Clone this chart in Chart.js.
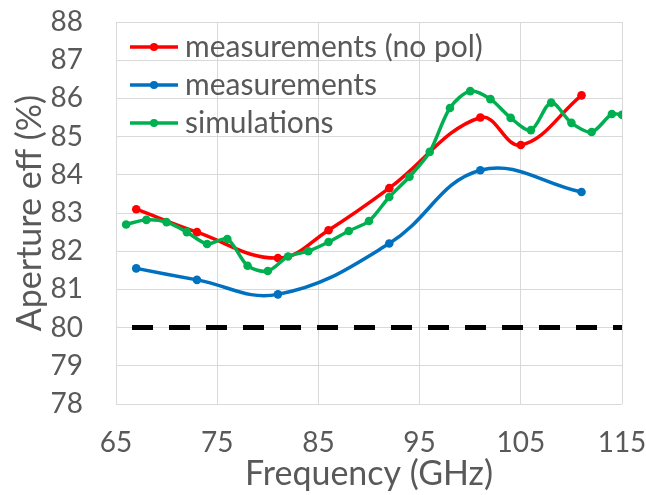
<!DOCTYPE html>
<html>
<head>
<meta charset="utf-8">
<script src="https://cdn.jsdelivr.net/npm/chart.js@4.4.1/dist/chart.umd.min.js"></script>
<style>
  body { margin: 0; background: #fff; }
</style>
</head>
<body>
<canvas id="myChart" width="646" height="495"></canvas>
<script>
const ctx = document.getElementById('myChart')

// x / y values
const freqNoPol = [67, 73, 81, 86, 92, 101, 105, 111]
const effNoPol = [83.1, 82.5, 81.82, 82.55, 83.65, 85.5, 84.78, 86.08]

const freqMeas = [67, 73, 81, 92, 101, 111]
const effMeas = [81.55, 81.25, 80.87, 82.2, 84.12, 83.55]

const freqSim = [66, 68, 70, 72, 74, 76, 78, 80, 82, 84, 86, 88, 90, 92, 94, 96, 98, 100, 102, 104, 106, 108, 110, 112, 114, 115]
const effSim = [82.7, 82.82, 82.76, 82.5, 82.19, 82.32, 81.62, 81.48, 81.86, 82.0, 82.24, 82.53, 82.79, 83.42, 83.95, 84.6, 85.75, 86.19, 85.98, 85.49, 85.17, 85.89, 85.36, 85.12, 85.59, 85.57]

const freqLimit = [65, 115]
const effLimit = [80, 80]

const seriesNames = ['measurements (no pol)', 'measurements', 'simulations']
const seriesColors = ['#ff0000', '#0070c0', '#00b050']

const xTicks = [65, 75, 85, 95, 105, 115]
const yTicks = [78, 79, 80, 81, 82, 83, 84, 85, 86, 87, 88]

const textColor = '#595959'
const gridColor = '#d9d9d9'

function toPoints(xs, ys) {
  return xs.map((x, i) => ({ x: x, y: ys[i] }))
}

// little "line with a dot" icon for the legend
function legendIcon(color) {
  const c = document.createElement('canvas')
  c.width = 48
  c.height = 14
  const g = c.getContext('2d')
  g.strokeStyle = color
  g.lineWidth = 3.5
  g.beginPath()
  g.moveTo(0, 7)
  g.lineTo(48, 7)
  g.stroke()
  g.fillStyle = color
  g.beginPath()
  g.arc(24, 7, 4, 0, Math.PI * 2)
  g.fill()
  return c
}
const legendIcons = seriesColors.map(legendIcon)

function lineSet(i, xs, ys, tension, order) {
  return {
    label: seriesNames[i],
    data: toPoints(xs, ys),
    borderColor: seriesColors[i],
    backgroundColor: seriesColors[i],
    borderWidth: 3.5,
    pointRadius: 4.3,
    pointBorderWidth: 0,
    tension: tension,
    fill: false,
    order: order
  }
}

// put the legend inside the plot, top left
const legendMover = {
  id: 'legendMover',
  afterLayout(chart) {
    const lg = chart.legend
    const a = chart.chartArea
    lg.left = a.left + 14
    lg.top = a.top + 2
    lg.right = a.right
    lg.bottom = a.bottom
  }
}

// tick padding should not push the plot area inwards
function noEdgePadding(scale) {
  scale.paddingTop = 0
  scale.paddingBottom = 0
  scale.paddingLeft = 0
  scale.paddingRight = 0
}

new Chart(ctx, {
  type: 'line',
  data: {
    datasets: [
      lineSet(0, freqNoPol, effNoPol, 0.4, 2),
      lineSet(1, freqMeas, effMeas, 0.4, 1),
      lineSet(2, freqSim, effSim, 0.3, 0),
      {
        label: 'limit',
        data: toPoints(freqLimit, effLimit),
        borderColor: '#000000',
        borderWidth: 5,
        borderDash: [21, 16],
        borderDashOffset: 21,
        borderCapStyle: 'butt',
        pointRadius: 0,
        fill: false,
        order: 3
      }
    ]
  },
  options: {
    responsive: false,
    animation: false,
    layout: {
      padding: { left: 0, top: 22, right: 24, bottom: 0 }
    },
    plugins: {
      tooltip: { enabled: false },
      legend: {
        position: 'chartArea',
        fullSize: false,
        align: 'start',
        labels: {
          usePointStyle: true,
          pointStyleWidth: 32,
          padding: 8,
          color: textColor,
          font: { family: 'Lato', size: 30 },
          filter: item => item.datasetIndex < 3,
          generateLabels: chart => {
            const items = Chart.defaults.plugins.legend.labels.generateLabels(chart)
            items.sort((a, b) => a.datasetIndex - b.datasetIndex)
            items.forEach(item => {
              if (item.datasetIndex < 3) item.pointStyle = legendIcons[item.datasetIndex]
            })
            return items
          }
        }
      }
    },
    scales: {
      x: {
        type: 'linear',
        min: 65,
        max: 115,
        afterBuildTicks: scale => { scale.ticks = xTicks.map(v => ({ value: v })) },
        afterFit: scale => {
          scale.height = 91
          noEdgePadding(scale)
        },
        ticks: {
          color: textColor,
          font: { family: 'Lato', size: 28 },
          padding: 22,
          maxRotation: 0,
          autoSkip: false
        },
        grid: { color: gridColor, lineWidth: 1, drawTicks: false },
        border: { display: false },
        title: {
          display: true,
          text: 'Frequency (GHz)',
          color: textColor,
          font: { family: 'Lato', size: 34 },
          padding: { top: 0, bottom: 1 }
        }
      },
      y: {
        min: 78,
        max: 88,
        afterBuildTicks: scale => { scale.ticks = yTicks.map(v => ({ value: v })) },
        afterFit: scale => {
          scale.width = 116
          noEdgePadding(scale)
        },
        ticks: {
          color: textColor,
          font: { family: 'Lato', size: 28 },
          padding: 33,
          autoSkip: false
        },
        grid: { color: gridColor, lineWidth: 1, drawTicks: false },
        border: { display: false },
        title: {
          display: true,
          text: 'Aperture eff (%)',
          color: textColor,
          font: { family: 'Lato', size: 34 },
          padding: { top: 10, bottom: 0 }
        }
      }
    }
  },
  plugins: [legendMover]
})
</script>
</body>
</html>
